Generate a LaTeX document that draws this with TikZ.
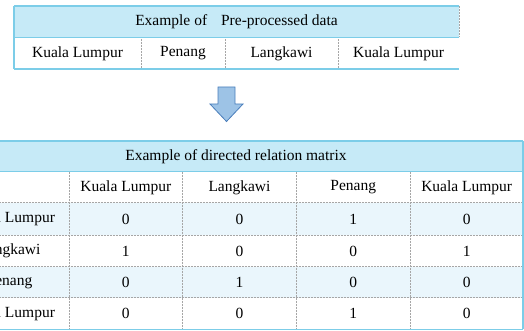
\documentclass[tikz,border=0pt]{standalone}
\usepackage{fontspec}
\setmainfont{Liberation Serif}
\definecolor{hdrblue}{HTML}{C6EAF7}
\definecolor{rowblue}{HTML}{EAF6FC}
\definecolor{edgeblue}{HTML}{7CCDE8}
\definecolor{arrowfill}{HTML}{9DC3E6}
\definecolor{arrowline}{HTML}{4A7EBB}
\begin{document}
\begin{tikzpicture}[x=1pt,y=-1pt,
  txt/.style={font=\fontsize{15.5}{18}\selectfont, inner sep=0pt, anchor=center},
  divider/.style={draw=gray!70, densely dotted, line width=0.5pt},
  outer/.style={draw=edgeblue, line width=1.2pt}]
\useasboundingbox (0,0) rectangle (524,331);
\clip (0,0) rectangle (524,331);
% ---------- top table ----------
\fill[hdrblue] (14,6) rectangle (459,37.3);
\fill[white] (14,37.3) rectangle (459,69);
\foreach \x in {141,225,338} \draw[divider] (\x,37.3) -- (\x,69);
\draw[divider] (459,6) -- (459,37.3);
\draw[outer] (14,6) -- (459,6);
\draw[outer] (14,37.3) -- (459,37.3);
\draw[outer] (14,69) -- (459,69);
\draw[outer] (14,6) -- (14,69);
\node[txt] (th) at (236.5,22) {Example of\hspace{0.9em}Pre-processed data};
\node[txt] (t1) at (77.5,53.5) {Kuala Lumpur};
\node[txt] (t2) at (183,53.5) {Penang};
\node[txt] (t3) at (281.5,53.5) {Langkawi};
\node[txt] (t4) at (398.5,53.5) {Kuala Lumpur};
% ---------- arrow ----------
\draw[fill=arrowfill, draw=arrowline, line width=0.8pt, line join=miter]
  (218,87) -- (235,87) -- (235,104) -- (243,104) -- (226.5,121.5)
  -- (210,104) -- (218,104) -- cycle;
% ---------- bottom table ----------
\fill[hdrblue] (-51,141) rectangle (523,171.7);
\fill[white] (-51,171.7) rectangle (523,202.7);
\fill[rowblue] (-51,202.7) rectangle (523,235);
\fill[white] (-51,235) rectangle (523,266.7);
\fill[rowblue] (-51,266.7) rectangle (523,297.7);
\fill[white] (-51,297.7) rectangle (523,329.3);
\foreach \y in {202.7,235,266.7,297.7} \draw[divider] (-51,\y) -- (523,\y);
\foreach \x in {69,182.7,296.3,410.3} \draw[divider] (\x,171.7) -- (\x,329.3);
\draw[outer] (-51,141) -- (523,141);
\draw[outer] (-51,171.7) -- (523,171.7);
\draw[outer] (-51,329.3) -- (523,329.3);
\draw[outer] (523,141) -- (523,329.3);
\node[txt] (mh) at (236,157) {Example of directed relation matrix};
\node[txt] (c1) at (125.8,187.5) {Kuala Lumpur};
\node[txt] (c2) at (239.5,187.5) {Langkawi};
\node[txt] (c3) at (353.3,187.5) {Penang};
\node[txt] (c4) at (466.7,187.5) {Kuala Lumpur};
\node[txt] (r1) at (9.5,219) {Kuala Lumpur};
\node[txt] (r2) at (9.5,251) {Langkawi};
\node[txt] (r3) at (9.5,282.5) {Penang};
\node[txt] (r4) at (9.5,313.5) {Kuala Lumpur};
% values
\node[txt] (v11) at (125.8,219) {0};
\node[txt] (v12) at (239.5,219) {0};
\node[txt] (v13) at (353.3,219) {1};
\node[txt] (v14) at (466.7,219) {0};
\node[txt] (v21) at (125.8,251) {1};
\node[txt] (v22) at (239.5,251) {0};
\node[txt] (v23) at (353.3,251) {0};
\node[txt] (v24) at (466.7,251) {1};
\node[txt] (v31) at (125.8,282.5) {0};
\node[txt] (v32) at (239.5,282.5) {1};
\node[txt] (v33) at (353.3,282.5) {0};
\node[txt] (v34) at (466.7,282.5) {0};
\node[txt] (v41) at (125.8,313.5) {0};
\node[txt] (v42) at (239.5,313.5) {0};
\node[txt] (v43) at (353.3,313.5) {1};
\node[txt] (v44) at (466.7,313.5) {0};
\end{tikzpicture}
\end{document}
